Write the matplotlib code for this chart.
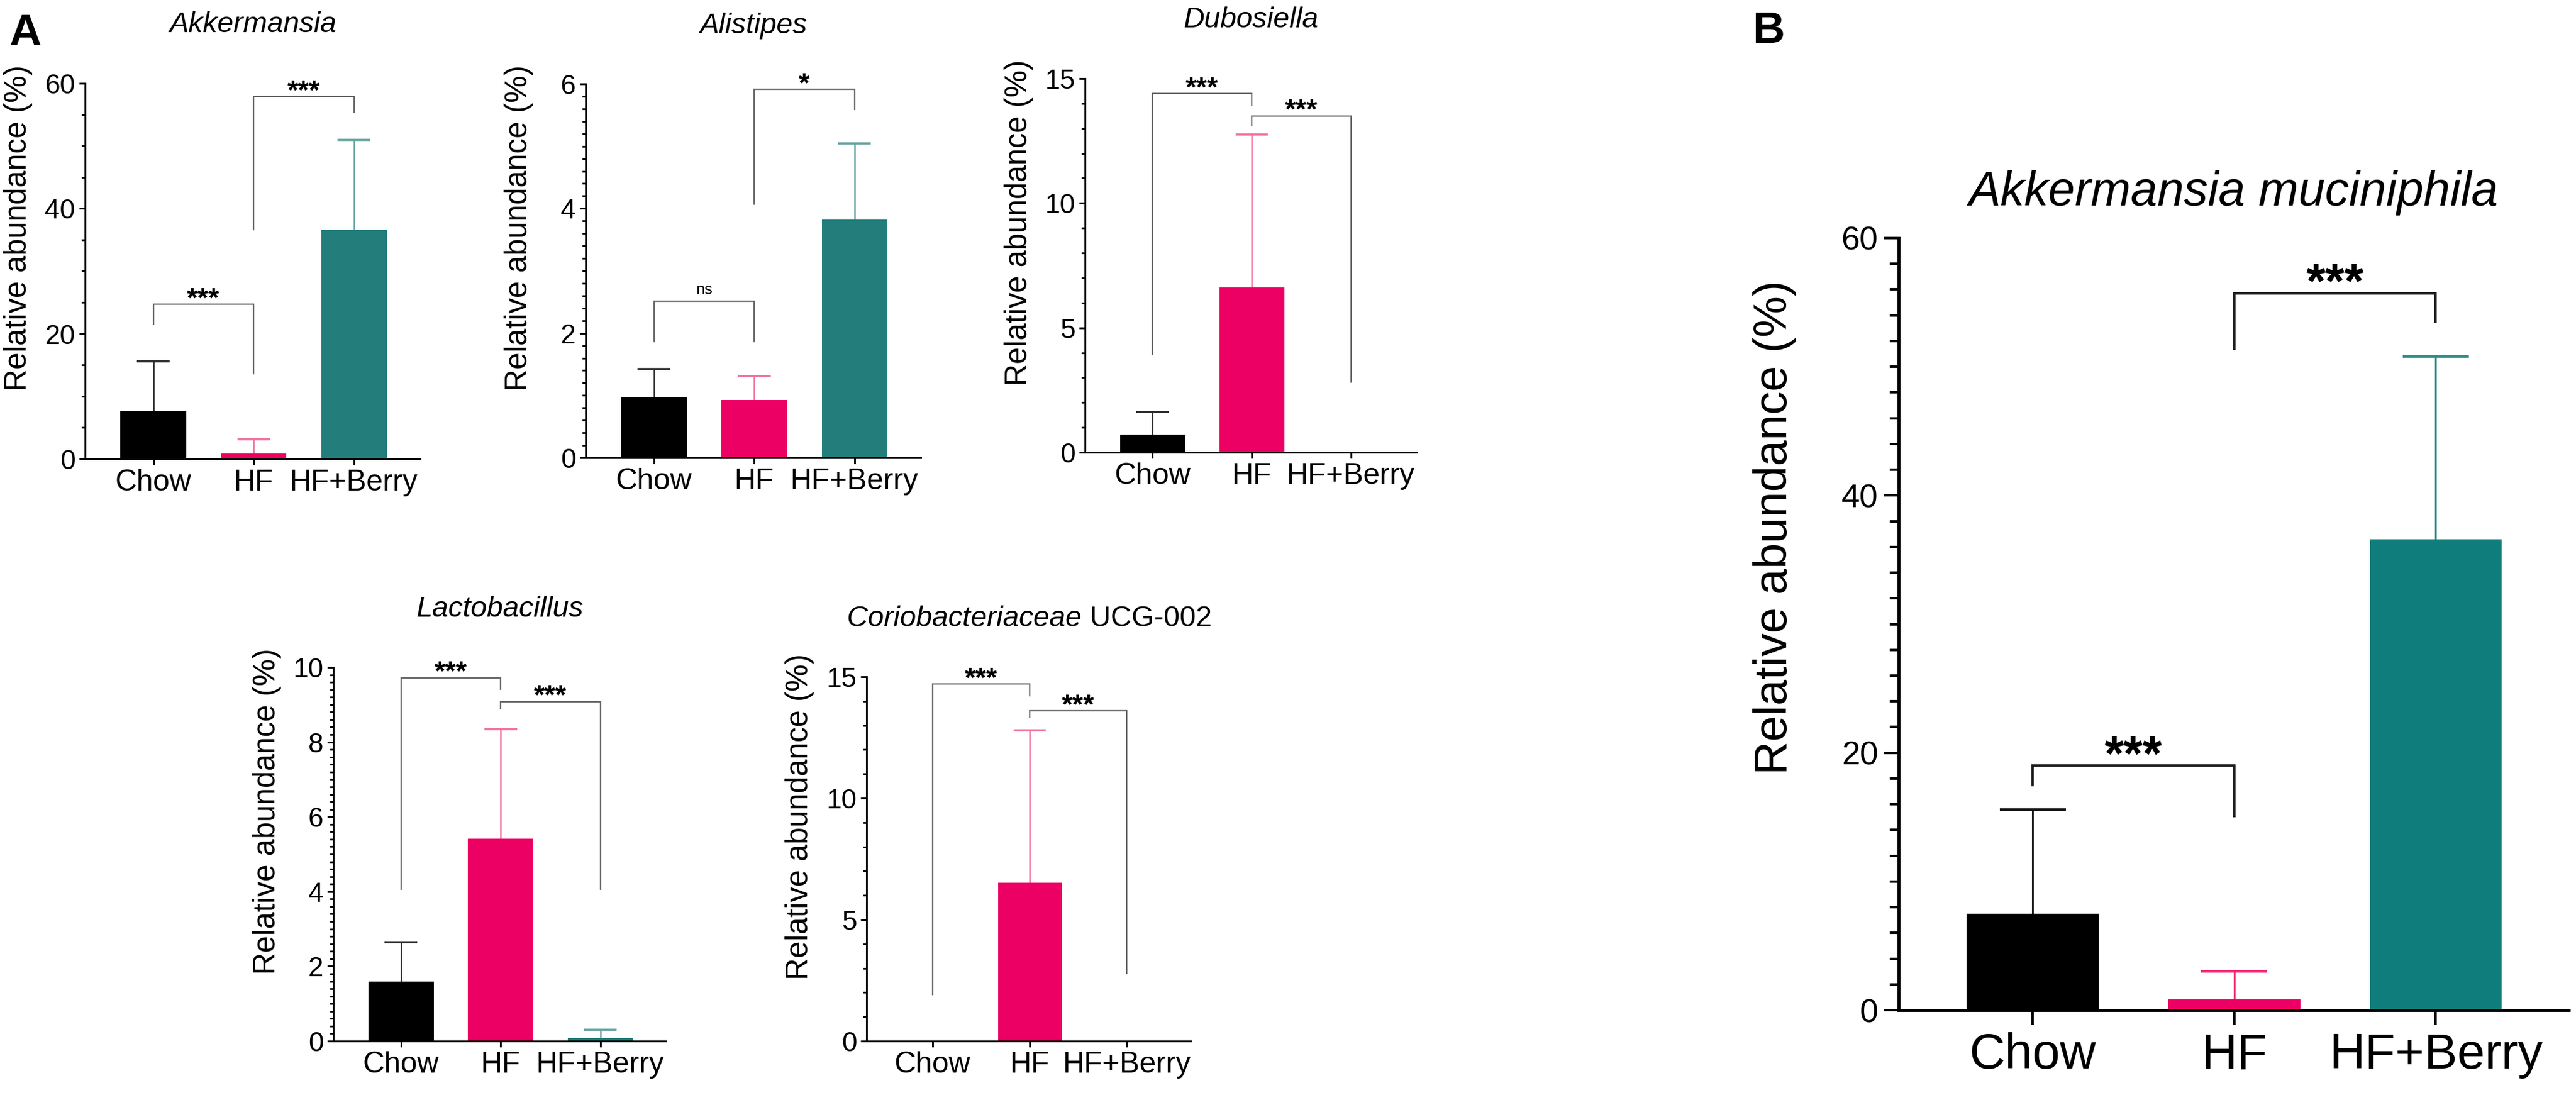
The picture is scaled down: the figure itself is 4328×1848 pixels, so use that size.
import numpy as np
import matplotlib
matplotlib.use('Agg')
import matplotlib.pyplot as plt
from matplotlib.ticker import MultipleLocator

plt.rcParams['font.family'] = ['Liberation Sans', 'DejaVu Sans']
plt.rcParams['mathtext.fontset'] = 'custom'
plt.rcParams['mathtext.rm'] = 'Liberation Sans'
plt.rcParams['mathtext.it'] = 'Liberation Sans:italic'

W, H = 4328, 1848

groups = ['Chow', 'HF', 'HF+Berry']

# panel A values (mean, upper SD)
akk_mean = [7.6, 0.85, 36.6]
akk_err = [8.0, 2.25, 14.4]
alist_mean = [0.97, 0.93, 3.82]
alist_err = [0.45, 0.38, 1.22]
dub_mean = [0.72, 6.62, 0.0]
dub_err = [0.91, 6.13, 0.0]
lacto_mean = [1.6, 5.42, 0.08]
lacto_err = [1.05, 2.93, 0.22]
corio_mean = [0.0, 6.53, 0.02]
corio_err = [0.0, 6.27, 0.0]

# panel B
muc_mean = [7.5, 0.85, 36.6]
muc_err = [8.1, 2.15, 14.2]

# brackets: (group a, group b, bar height, left leg end, right leg end, text)
akk_br = [(0, 1, 24.7, 21.4, 13.5, '***'), (1, 2, 57.9, 36.5, 55.2, '***')]
alist_br = [(0, 1, 2.51, 1.85, 1.85, 'ns'), (1, 2, 5.91, 4.06, 5.58, '*')]
dub_br = [(0, 1, 14.4, 3.9, 13.9, '***'), (1, 2, 13.5, 13.1, 2.8, '***')]
lacto_br = [(0, 1, 9.72, 4.05, 9.4, '***'), (1, 2, 9.08, 8.88, 4.05, '***')]
corio_br = [(0, 1, 14.7, 1.88, 14.2, '***'), (1, 2, 13.6, 13.3, 2.77, '***')]
muc_br = [(0, 1, 19.0, 17.4, 15.0, '***'), (1, 2, 55.7, 51.3, 53.4, '***')]

bar_cols_a = ['#000000', '#EC0064', '#237E7B']
err_cols_a = ['#2a2a2a', '#F2709C', '#62A19F']
bar_cols_b = ['#000000', '#EC0064', '#0F7D7B']
err_cols_b = ['#111111', '#EE2A72', '#2C8C8A']

BAR_W = 0.655

fig = plt.figure(figsize=(W / 100, H / 100), dpi=100)


def make_ax(l, t, r, b):
    return fig.add_axes([l / W, 1 - b / H, (r - l) / W, (b - t) / H])


def panel(ax, box, title, means, errs, ymax, major, minor, brs, big=False):
    l, t, r, b = box
    wpx, hpx = r - l, b - t
    x = np.arange(3)
    cols = bar_cols_b if big else bar_cols_a
    ecols = err_cols_b if big else err_cols_a
    ax.bar(x, means, width=BAR_W, color=cols, zorder=2)
    # one-sided error bars: stem up from the mean, cap only on top
    for i in range(3):
        if errs[i] > 0:
            top = means[i] + errs[i]
            ax.vlines(x[i], means[i], top, color=ecols[i],
                      lw=2.2 if big else 1.8, zorder=1)
            ax.hlines(top, x[i] - BAR_W / 4, x[i] + BAR_W / 4, color=ecols[i],
                      lw=3.0 if big else 2.6, zorder=1)
    ax.set_xlim(-0.665 if big else -0.68, 2.66)
    ax.set_ylim(0, ymax)
    ax.yaxis.set_major_locator(MultipleLocator(major))
    ax.yaxis.set_minor_locator(MultipleLocator(minor))
    ax.set_xticks(x)
    ax.set_xticklabels(groups)
    for s in ['top', 'right']:
        ax.spines[s].set_visible(False)
    sw = 3.6 if big else 2.2
    for s in ['left', 'bottom']:
        ax.spines[s].set_linewidth(sw)
    if big:
        ax.tick_params(axis='y', which='major', length=18, width=3, labelsize=40, pad=7)
        ax.tick_params(axis='y', which='minor', length=11, width=3)
        ax.tick_params(axis='x', length=18, width=3, labelsize=60, pad=9)
        ax.set_ylabel('Relative abundance (%)', fontsize=56, va='center')
        ax.yaxis.set_label_coords(-208 / wpx, 0.625)
        ax.text(0.5, 1 + 76 / hpx, title, transform=ax.transAxes, ha='center',
                va='center', fontsize=58, style='italic')
    else:
        ax.tick_params(axis='y', which='major', length=7, width=2.2, labelsize=33, pad=5)
        ax.tick_params(axis='y', which='minor', length=4.5, width=2.0)
        ax.tick_params(axis='x', length=7, width=2.2, labelsize=36, pad=5)
        ax.set_ylabel('Relative abundance (%)', fontsize=37, va='center')
        ax.yaxis.set_label_coords(-112 / wpx, 0.615)
        ax.text(0.5, 1 + 98 / hpx, title, transform=ax.transAxes, ha='center',
                va='center', fontsize=35, style='italic')
    bc = '#1a1a1a' if big else '#666666'
    blw = 2.8 if big else 1.7
    for a, c, y, yl, yr, lab in brs:
        ax.plot([a, a, c, c], [yl, y, y, yr], color=bc, lw=blw, clip_on=False,
                solid_joinstyle='miter', solid_capstyle='butt', zorder=3)
        if lab == 'ns':
            ax.annotate(lab, xy=((a + c) / 2, y), xytext=(0, 9), textcoords='offset points',
                        ha='center', va='baseline', fontsize=19)
        else:
            ax.annotate(lab, xy=((a + c) / 2, y), xytext=(0, -6 if big else -3),
                        textcoords='offset points', ha='center', va='baseline',
                        fontsize=60 if big else 34, fontweight='bold')


box_akk = (143, 140, 706, 771)
box_alist = (984, 141, 1547, 769)
box_dub = (1823, 132, 2380, 760)
box_lacto = (560, 1121, 1119, 1749)
box_corio = (1456, 1137, 2001, 1749)
box_muc = (3190, 400, 4316, 1697)

panel(make_ax(*box_akk), box_akk, 'Akkermansia', akk_mean, akk_err, 60, 20, 5, akk_br)
panel(make_ax(*box_alist), box_alist, 'Alistipes', alist_mean, alist_err, 6, 2, 0.2, alist_br)
panel(make_ax(*box_dub), box_dub, 'Dubosiella', dub_mean, dub_err, 15, 5, 1, dub_br)
panel(make_ax(*box_lacto), box_lacto, 'Lactobacillus', lacto_mean, lacto_err, 10, 2, 0.2, lacto_br)
ax_c = make_ax(*box_corio)
panel(ax_c, box_corio, r'$\mathit{Coriobacteriaceae}$ UCG-002', corio_mean, corio_err, 15, 5, 1, corio_br)
for t in ax_c.texts:
    if 'UCG' in t.get_text():
        t.set_style('normal')
panel(make_ax(*box_muc), box_muc, 'Akkermansia muciniphila', muc_mean, muc_err, 60, 20, 2, muc_br, big=True)

fig.text(15 / W, 1 - 56 / H, 'A', fontsize=54, fontweight='bold', ha='left', va='center')
fig.text(2945 / W, 1 - 53 / H, 'B', fontsize=54, fontweight='bold', ha='left', va='center')

fig.savefig('out.png', dpi=100, facecolor='white')
